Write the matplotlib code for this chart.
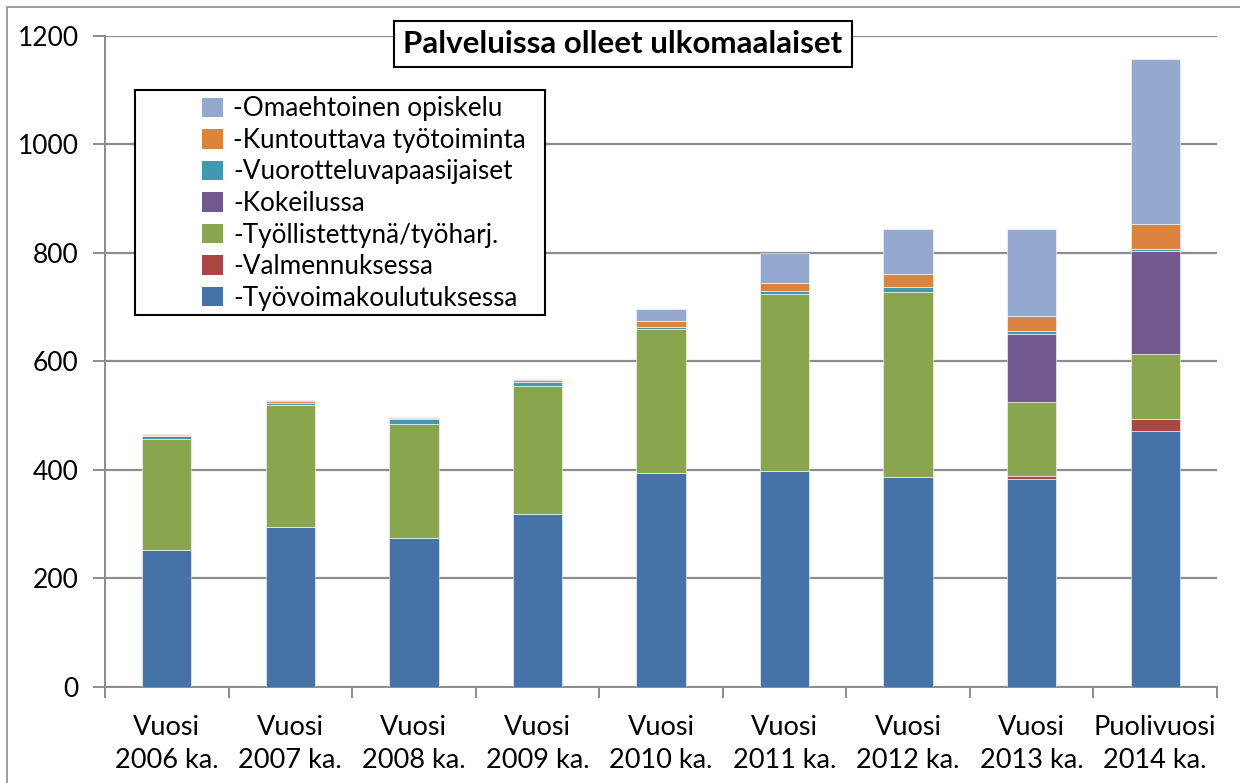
import numpy as np
import matplotlib
matplotlib.use("Agg")
import matplotlib.pyplot as plt
from matplotlib.patches import Rectangle, Patch

# data
categories = ["Vuosi\n2006 ka.", "Vuosi\n2007 ka.", "Vuosi\n2008 ka.",
              "Vuosi\n2009 ka.", "Vuosi\n2010 ka.", "Vuosi\n2011 ka.",
              "Vuosi\n2012 ka.", "Vuosi\n2013 ka.", "Puolivuosi\n2014 ka."]
tyovoimakoulutus = [252, 295, 275, 318, 394, 397, 386, 383, 471]
valmennus = [0, 0, 0, 0, 0, 0, 0, 5, 22]
tyollistetty = [205, 224, 210, 237, 265, 327, 341, 137, 120]
kokeilu = [0, 0, 0, 0, 0, 0, 0, 125, 190]
vuorottelu = [5, 5, 8, 6, 5, 6, 9, 5, 4]
kuntouttava = [3, 3, 3, 5, 11, 14, 25, 29, 46]
omaehtoinen = [1, 1, 1, 1, 21, 55, 83, 160, 304]

series = [
    ("-Työvoimakoulutuksessa", tyovoimakoulutus, "#4572A7"),
    ("-Valmennuksessa", valmennus, "#AA4643"),
    ("-Työllistettynä/työharj.", tyollistetty, "#89A54E"),
    ("-Kokeilussa", kokeilu, "#71588F"),
    ("-Vuorotteluvapaasijaiset", vuorottelu, "#4198AF"),
    ("-Kuntouttava työtoiminta", kuntouttava, "#DB843D"),
    ("-Omaehtoinen opiskelu", omaehtoinen, "#93A9CF"),
]

label_font = ["Lato", "DejaVu Sans"]
grid_col = "#8C8C8C"

fig = plt.figure(figsize=(12.4, 7.83), dpi=100)
ax = fig.add_axes([105 / 1240, 1 - 687 / 783, 1112 / 1240, 651.5 / 783])

x = np.arange(len(categories))
bottom = np.zeros(len(categories))
for name, vals, col in series:
    vals = np.array(vals, dtype=float)
    ax.bar(x, vals, width=0.4, bottom=bottom, color=col,
           edgecolor="#FFFFFF", linewidth=0.4, zorder=3)
    bottom += vals

# axes
ax.set_xlim(-0.5, len(categories) - 0.5)
ax.set_ylim(0, 1200)
ax.set_yticks(np.arange(0, 1201, 200))
ax.yaxis.grid(True, color=grid_col, linewidth=1.6, zorder=0)
ax.set_axisbelow(True)
for side in ["top", "right"]:
    ax.spines[side].set_visible(False)
for side in ["left", "bottom"]:
    ax.spines[side].set_color(grid_col)
    ax.spines[side].set_linewidth(1.4)

ax.tick_params(axis="y", length=9, width=1.4, color=grid_col, pad=10)
for lab in ax.get_yticklabels():
    lab.set_family(label_font)
    lab.set_fontsize(19)

ax.set_xticks(x)
ax.set_xticklabels(categories, family=label_font, fontsize=19.5,
                   linespacing=1.42)
ax.tick_params(axis="x", which="major", length=0, pad=20)
ax.set_xticks(np.arange(-0.5, len(categories), 1.0), minor=True)
ax.tick_params(axis="x", which="minor", length=8, width=1.4, color=grid_col)

# title in a box
fig.text(623 / 1240, 1 - 44 / 783, "Palveluissa olleet ulkomaalaiset",
         ha="center", va="center", family=label_font, fontsize=22.5,
         fontweight="bold",
         bbox=dict(boxstyle="square,pad=0.3", facecolor="white",
                   edgecolor="black", linewidth=1.5))

# legend: entries listed top-down in reverse stacking order
handles = [Patch(facecolor=col, edgecolor="none") for _, _, col in series][::-1]
labels = [name for name, _, _ in series][::-1]
leg_box = Rectangle((135 / 1240, 1 - 315 / 783), 410 / 1240, 225 / 783,
                    transform=fig.transFigure, facecolor="white",
                    edgecolor="black", linewidth=1.5, zorder=4)
fig.patches.append(leg_box)
leg = fig.legend(handles, labels, loc="upper left",
                 bbox_to_anchor=(192 / 1240, 1 - 86 / 783),
                 frameon=False, prop={"family": label_font, "size": 18.8},
                 handlelength=0.78, handleheight=0.78, handletextpad=0.4,
                 labelspacing=0.25, borderaxespad=0)
leg.set_zorder(5)

# outer chart border
fig.patches.append(Rectangle((7 / 1240, -0.1), 2, 1.1 - 7 / 783,
                             transform=fig.transFigure, fill=False,
                             edgecolor="#8C8C8C", linewidth=1.2))

fig.savefig("out.png", dpi=100)
